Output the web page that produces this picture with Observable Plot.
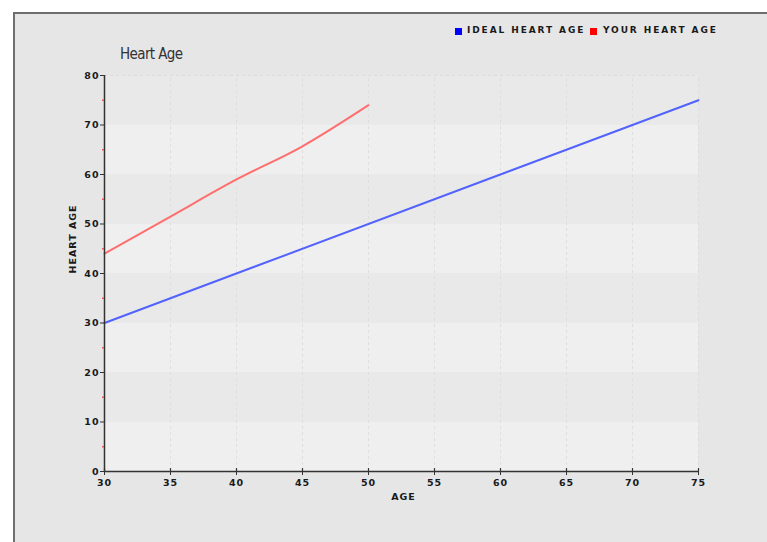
<!DOCTYPE html>
<html>
<head>
<meta charset="utf-8">
<script src="https://cdn.jsdelivr.net/npm/d3@7"></script>
<script src="https://cdn.jsdelivr.net/npm/@observablehq/plot@0.6"></script>
<style>
  html, body { margin: 0; padding: 0; background: #ffffff; }
  #wrap { position: relative; width: 767px; height: 542px; overflow: hidden; }
  #frame { position: absolute; left: 13px; top: 12px; width: 800px; height: 600px;
           border-left: 2px solid #6e6e6e; border-top: 2px solid #6e6e6e; background: #e6e6e6; }
  #chart { position: absolute; left: 0; top: 0; }
  #chart svg text { letter-spacing: 1px; }
  .lbl { position: absolute; font-family: "DejaVu Sans", sans-serif; font-weight: bold; color: #1a1a1a; font-size: 9px; letter-spacing: 1.9px; white-space: nowrap; }
  #title { position: absolute; left: 120px; top: 45px; font-family: "DejaVu Sans Condensed", "Liberation Sans Narrow", "Liberation Sans", sans-serif; font-stretch: condensed; font-size: 15px; color: #333; letter-spacing: -0.6px; }
  .sw { position: absolute; width: 7px; height: 7px; }
</style>
</head>
<body>
<div id="wrap">
  <div id="frame"></div>
  <div id="chart"></div>
  <div id="title">Heart Age</div>
  <div class="sw" style="left:455px; top:28px; background:#0000ff"></div>
  <div class="lbl" style="left:467px; top:25px;">IDEAL HEART AGE</div>
  <div class="sw" style="left:590px; top:28px; background:#ff0000"></div>
  <div class="lbl" style="left:603px; top:25px;">YOUR HEART AGE</div>
</div>
<script>
const xTicks = [30, 35, 40, 45, 50, 55, 60, 65, 70, 75];
const yTicks = [0, 10, 20, 30, 40, 50, 60, 70, 80];
const yMinorTicks = [5, 15, 25, 35, 45, 55, 65, 75];
const idealAge = [30, 75];
const idealHeartAge = [30, 75];
const yourAge = [30, 35, 40, 45, 50];
const yourHeartAge = [44, 51.5, 59, 65.7, 74];

const ideal = idealAge.map((a, i) => ({age: a, heart: idealHeartAge[i]}));
const yours = yourAge.map((a, i) => ({age: a, heart: yourHeartAge[i]}));
const bands = yTicks.slice(0, -1).map((v, i) => ({y1: v, y2: yTicks[i + 1], light: i % 2 === 0}));

const plot = Plot.plot({
  width: 767,
  height: 542,
  marginLeft: 104,
  marginRight: 69,
  marginTop: 75,
  marginBottom: 71,
  style: {background: "transparent", fontFamily: "DejaVu Sans, sans-serif", fontSize: "9.5px", fontWeight: "bold", color: "#1a1a1a"},
  x: {domain: [30, 75]},
  y: {domain: [0, 80]},
  marks: [
    Plot.rectY(bands, {x1: 30, x2: 75, y1: "y1", y2: "y2", fill: d => d.light ? "#efefef" : "#e9e9e9"}),
    Plot.ruleX(xTicks.slice(1), {y1: 0, y2: 80, stroke: "#dedede", strokeDasharray: "3,3", strokeWidth: 1}),
    Plot.ruleY([80], {x1: 30, x2: 75, stroke: "#dadada", strokeDasharray: "3,3"}),
    Plot.line(ideal, {x: "age", y: "heart", stroke: "#5262ff", strokeWidth: 2}),
    Plot.line(yours, {x: "age", y: "heart", stroke: "#ff6e6e", strokeWidth: 2, curve: "monotone-x"}),
    Plot.ruleX([30], {y1: 0, y2: 80, stroke: "#333", strokeWidth: 1.5}),
    Plot.ruleY([0], {x1: 30, x2: 75, stroke: "#333", strokeWidth: 1.5}),
    Plot.ruleX(xTicks, {y1: 0, y2: 0.6, stroke: "#333", strokeWidth: 1.2}),
    Plot.axisY({ticks: yTicks, tickSize: 4, tickPadding: 1, stroke: "#333", fill: "#1a1a1a", label: null}),
    Plot.axisY({ticks: yMinorTicks, tickSize: 2, tickPadding: 0, stroke: "#ff5050", strokeWidth: 1.5, text: null, label: null}),
    Plot.axisX({ticks: xTicks, tickSize: 4, tickPadding: 4, stroke: "#333", fill: "#1a1a1a", label: null}),
    Plot.text(["AGE"], {frameAnchor: "bottom", dy: 28, dx: 2, fill: "#1a1a1a"}),
    Plot.text(["HEART AGE"], {frameAnchor: "left", dx: -32, dy: 0, rotate: -90, fill: "#1a1a1a"})
  ]
});
document.getElementById("chart").appendChild(plot);
</script>
</body>
</html>
